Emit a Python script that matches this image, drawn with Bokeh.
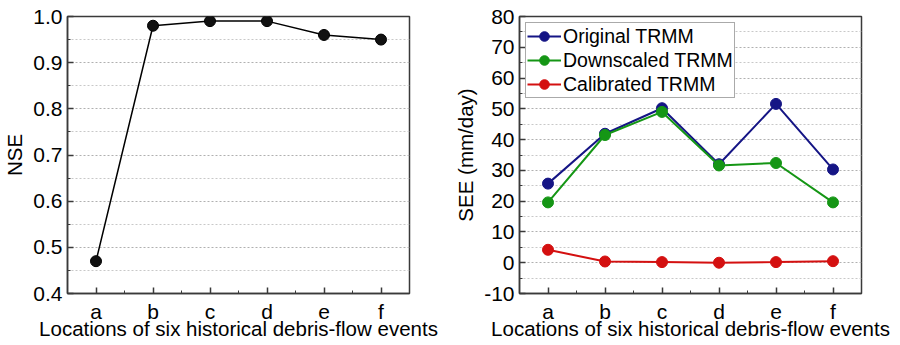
from bokeh.plotting import figure
from bokeh.layouts import row
from bokeh.models import FixedTicker, NumeralTickFormatter, Legend, LegendItem, Range1d
from bokeh.embed import file_html
from bokeh.resources import INLINE

locations = ["a", "b", "c", "d", "e", "f"]
nse = [0.47, 0.98, 0.99, 0.99, 0.96, 0.95]
see_original = [25.7, 41.9, 50.2, 32.0, 51.6, 30.3]
see_downscaled = [19.6, 41.5, 49.0, 31.6, 32.4, 19.6]
see_calibrated = [4.2, 0.4, 0.2, 0.0, 0.2, 0.5]
nse_ticks = [0.4, 0.5, 0.6, 0.7, 0.8, 0.9, 1.0]
see_ticks = [-10, 0, 10, 20, 30, 40, 50, 60, 70, 80]

FONT = "Liberation Sans"
xs = list(range(len(locations)))
x_minor = [i + 0.5 for i in xs[:-1]]


def style(p, yticks, yminor, ylabel, fmt):
    p.outline_line_color = "#3a3a3a"
    p.outline_line_width = 1.5
    p.background_fill_color = "white"
    p.border_fill_color = "white"
    p.xaxis.ticker = FixedTicker(ticks=xs, minor_ticks=x_minor)
    p.xaxis.major_label_overrides = {i: c for i, c in zip(xs, locations)}
    p.yaxis.ticker = FixedTicker(ticks=yticks, minor_ticks=yminor)
    p.yaxis.formatter = NumeralTickFormatter(format=fmt)
    for ax in (p.xaxis[0], p.yaxis[0]):
        ax.axis_line_color = "#3a3a3a"
        ax.axis_line_width = 1.5
        ax.major_tick_in = 6
        ax.major_tick_out = 0
        ax.minor_tick_in = 3
        ax.minor_tick_out = 0
        ax.major_tick_line_color = "#3a3a3a"
        ax.minor_tick_line_color = "#3a3a3a"
        ax.major_tick_line_width = 1.5
        ax.major_label_text_font = FONT
        ax.major_label_text_font_size = "21px"
        ax.major_label_text_color = "black"
        ax.axis_label_text_font = FONT
        ax.axis_label_text_font_size = "20.5px"
        ax.axis_label_text_font_style = "normal"
        ax.axis_label_text_color = "black"
    p.xaxis.axis_label = "Locations of six historical debris-flow events"
    p.xaxis.major_label_standoff = 6
    p.xaxis.axis_label_standoff = -9
    p.yaxis.axis_label = ylabel
    p.yaxis.major_label_standoff = 5
    p.yaxis.axis_label_standoff = 4
    p.xgrid.grid_line_color = None
    p.ygrid.ticker = FixedTicker(ticks=yticks, minor_ticks=yminor)
    p.ygrid.grid_line_color = "#b0b0b0"
    p.ygrid.grid_line_dash = "2 2"
    p.ygrid.grid_line_width = 1
    p.ygrid.minor_grid_line_color = "#c8c8c8"
    p.ygrid.minor_grid_line_dash = "2 2"
    p.ygrid.minor_grid_line_width = 1


# Left panel: NSE
p1 = figure(frame_width=342, frame_height=277, output_backend="svg", toolbar_location=None,
            x_range=Range1d(-0.5, 5.5), y_range=Range1d(0.4, 1.0),
            min_border_left=59, min_border_right=41, min_border_top=14, min_border_bottom=30)
nse_minor = [round(t + 0.05, 2) for t in nse_ticks[:-1]]
style(p1, nse_ticks, nse_minor, "NSE", "0.0")
p1.line(xs, nse, line_color="black", line_width=1.5)
p1.scatter(xs, nse, size=11, fill_color="#111111", line_color="black")

# Right panel: SEE
p2 = figure(frame_width=342, frame_height=277, output_backend="svg", toolbar_location=None,
            x_range=Range1d(-0.5, 5.5), y_range=Range1d(-10, 80),
            min_border_left=69, min_border_right=31, min_border_top=16, min_border_bottom=28)
see_minor = [t + 5 for t in see_ticks[:-1]]
style(p2, see_ticks, see_minor, "SEE (mm/day)", "0")

series = [
    ("Original TRMM", see_original, "#151585"),
    ("Downscaled TRMM", see_downscaled, "#159615"),
    ("Calibrated TRMM", see_calibrated, "#d41010"),
]
items = []
for name, vals, col in series:
    l = p2.line(xs, vals, line_color=col, line_width=2)
    s = p2.scatter(xs, vals, size=11, fill_color=col, line_color=col)
    items.append(LegendItem(label=name, renderers=[l, s]))

legend = Legend(items=items, location="top_left")
legend.margin = 6
legend.padding = 1
legend.spacing = 0
legend.label_height = 24
legend.glyph_height = 24
legend.glyph_width = 34
legend.label_standoff = 2
legend.label_text_font = FONT
legend.label_text_font_size = "19.5px"
legend.label_text_color = "black"
legend.border_line_color = "#555555"
legend.border_line_width = 1
legend.background_fill_alpha = 1
p2.add_layout(legend)

layout = row(p1, p2)
open("out.html", "w").write(file_html(layout, INLINE))
